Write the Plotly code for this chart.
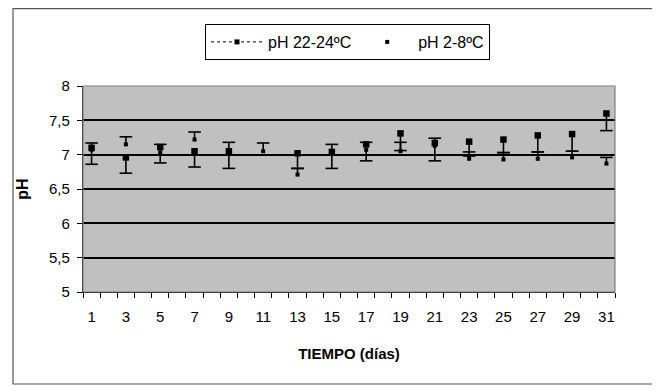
import plotly.graph_objects as go

# ---- data ----
days = [1, 3, 5, 7, 9, 11, 13, 15, 17, 19, 21, 23, 25, 27, 29, 31]
ph_22_24 = [7.10, 6.96, 7.11, 7.05, 7.05, None, 7.02, 7.04, 7.15, 7.31, 7.17, 7.19, 7.22, 7.28, 7.30, 7.60]
err_22_24 = [0.24, 0.23, 0.23, 0.23, 0.25, None, 0.22, 0.24, 0.24, 0.25, 0.26, 0.21, 0.19, 0.24, 0.25, 0.25]
ph_2_8 = [7.07, 7.15, 7.03, 7.22, 7.04, 7.05, 6.71, 7.03, 7.07, 7.05, 7.13, 6.94, 6.93, 6.94, 6.96, 6.87]
err_2_8 = [0.10, 0.11, 0.12, 0.11, 0.14, 0.12, 0.09, 0.12, 0.11, 0.13, 0.11, 0.10, 0.10, 0.10, 0.09, 0.09]
series_names = ["pH 22-24ºC", "pH 2-8ºC"]
x_labels = [str(d) for d in range(1, 32, 2)]
y_ticks = [5, 5.5, 6, 6.5, 7, 7.5, 8]

FONT = "Liberation Sans, Arial, sans-serif"
# the page body has an 8px margin, so the figure sits at (8, 8) in the window
OFF = 8
W, H = 660 - OFF, 390 - OFF
ML, MT = 83 - OFF, 86 - OFF
MR = W - (615 - OFF)
MB = H - (292 - OFF)
PW, PH = W - ML - MR, H - MT - MB


def px_x(page_x):
    return (page_x - OFF - ML) / PW


def px_y(page_y):
    return (H - MB - (page_y - OFF)) / PH


zeros = [0] * len(days)
cap_low = [None if (v is None or e is None) else v - e for v, e in zip(ph_22_24, err_22_24)]
cap_high = [v + e for v, e in zip(ph_2_8, err_2_8)]

fig = go.Figure()

# series 22-24: minus error bars
fig.add_trace(go.Scatter(
    x=days, y=ph_22_24, mode="markers", showlegend=False,
    marker=dict(symbol="square", size=6.5, color="black"),
    error_y=dict(type="data", symmetric=False, array=zeros, arrayminus=err_22_24,
                 width=0, thickness=1.6, color="black"),
))
fig.add_trace(go.Scatter(
    x=days, y=cap_low, mode="markers", showlegend=False, hoverinfo="skip",
    marker=dict(symbol="line-ew", size=9, line=dict(width=1.6, color="black")),
))
# series 2-8: plus error bars
fig.add_trace(go.Scatter(
    x=days, y=ph_2_8, mode="markers", showlegend=False,
    marker=dict(symbol="square", size=4, color="black"),
    error_y=dict(type="data", symmetric=False, array=err_2_8, arrayminus=zeros,
                 width=0, thickness=1.6, color="black"),
))
fig.add_trace(go.Scatter(
    x=days, y=cap_high, mode="markers", showlegend=False, hoverinfo="skip",
    marker=dict(symbol="line-ew", size=9, line=dict(width=1.6, color="black")),
))

# legend entries
fig.add_trace(go.Scatter(
    x=[None], y=[None], mode="lines+markers", name=series_names[0],
    line=dict(color="black", width=1, dash="dot"),
    marker=dict(symbol="square", size=5, color="black"),
))
fig.add_trace(go.Scatter(
    x=[None], y=[None], mode="markers", name=series_names[1],
    marker=dict(symbol="square", size=4, color="black"),
))

# outer chart border
fig.add_shape(type="rect", xref="paper", yref="paper",
              x0=px_x(13), x1=px_x(654), y0=px_y(384), y1=px_y(8.6),
              line=dict(color="#555555", width=1.2), fillcolor="rgba(0,0,0,0)", layer="below")
# plot frame
fig.add_shape(type="rect", xref="paper", yref="paper", x0=0, x1=1, y0=0, y1=1,
              line=dict(color="#808080", width=1.2), fillcolor="rgba(0,0,0,0)", layer="above")

fig.update_layout(
    width=W, height=H,
    margin=dict(l=ML, r=MR, t=MT, b=MB, autoexpand=False),
    paper_bgcolor="white", plot_bgcolor="#C0C0C0",
    separators=",.",
    font=dict(family=FONT, size=15, color="black"),
    showlegend=True,
    legend=dict(orientation="h", x=px_x(205), y=px_y(24),
                xanchor="left", yanchor="top",
                bordercolor="black", borderwidth=1, bgcolor="white",
                font=dict(family=FONT, size=16), itemwidth=52,
                traceorder="normal"),
    xaxis=dict(
        range=[0.5, 31.5], tickmode="array", tickvals=list(range(1, 32, 2)), ticktext=x_labels,
        ticks="outside", ticklen=11, tickcolor="rgba(0,0,0,0)",
        minor=dict(tick0=0.5, dtick=1, ticks="outside", ticklen=5, tickcolor="black", tickwidth=1, showgrid=False),
        showgrid=False, zeroline=False, showline=True, linecolor="black", linewidth=1.2,
        tickfont=dict(size=15),
        title=dict(text="<b>TIEMPO (días)</b>", font=dict(size=15), standoff=24),
    ),
    yaxis=dict(
        range=[5, 8], tickmode="array", tickvals=y_ticks,
        ticks="outside", ticklen=5, tickcolor="black",
        showgrid=True, gridcolor="black", gridwidth=1.5, zeroline=False,
        showline=True, linecolor="black", linewidth=1.2,
        tickfont=dict(size=15), ticklabelstandoff=4,
        title=dict(text="<b>pH</b>", font=dict(size=16), standoff=16),
    ),
)

fig.write_html("out.html")
